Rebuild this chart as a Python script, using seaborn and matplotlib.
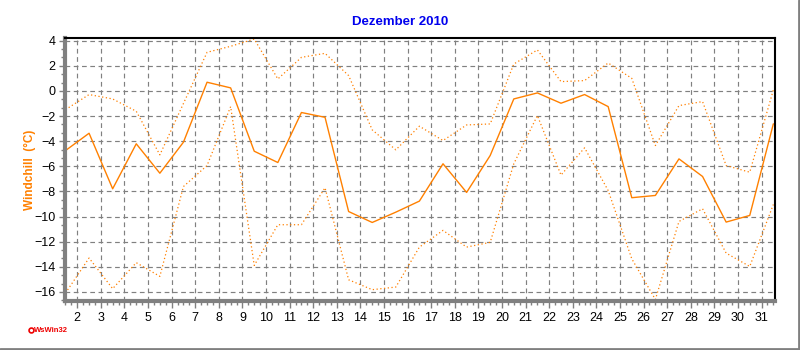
import matplotlib
matplotlib.use("Agg")
import matplotlib.pyplot as plt
import seaborn as sns
import pandas as pd
from matplotlib.ticker import MultipleLocator, AutoMinorLocator
from matplotlib.lines import Line2D

# ---- data (daily values for December 2010, plotted at mid-day) ----
days = list(range(1, 32))
windchill_mean = [-4.75, -3.37, -7.79, -4.21, -6.55, -4.08, 0.69, 0.24, -4.8, -5.7,
                  -1.72, -2.1, -9.6, -10.47, -9.65, -8.77, -5.8, -8.08, -5.14, -0.64,
                  -0.16, -0.98, -0.29, -1.25, -8.5, -8.32, -5.41, -6.81, -10.44, -9.91,
                  -2.62]
windchill_max = [-1.49, -0.29, -0.64, -1.62, -5.09, -1.0, 3.07, 3.55, 4.13, 0.95,
                 2.67, 2.99, 1.22, -3.1, -4.69, -2.81, -3.95, -2.71, -2.63, 2.14,
                 3.26, 0.74, 0.82, 2.22, 1.0, -4.35, -1.17, -0.85, -5.94, -6.47,
                 0.08]
windchill_min = [-16.09, -13.3, -15.74, -13.67, -14.76, -7.61, -5.94, -1.25, -13.89, -10.65,
                 -10.65, -7.71, -15.03, -15.82, -15.61, -12.43, -11.1, -12.43, -12.05, -5.8,
                 -1.96, -6.7, -4.53, -7.93, -13.36, -16.6, -10.39, -9.38, -12.91, -13.97,
                 -9.04]
xtick_labels = [str(d) for d in range(2, 32)]
title = "Dezember 2010"
ylabel = "Windchill  (°C)"

df = pd.DataFrame({
    "pos": [d + 0.5 for d in days],
    "mean": windchill_mean,
    "max": windchill_max,
    "min": windchill_min,
})

sns.set_theme(style="white")
plt.rcParams["font.family"] = ["Liberation Sans", "DejaVu Sans"]

ORANGE = "#FF8000"
GRAY = "#808080"

fig = plt.figure(figsize=(8, 3.5), dpi=100)
ax = fig.add_axes([65 / 800, 49 / 350, 710 / 800, 263 / 350])

sns.lineplot(data=df, x="pos", y="max", ax=ax, color=ORANGE, lw=0.9,
             linestyle=(0, (1, 2)))
sns.lineplot(data=df, x="pos", y="min", ax=ax, color=ORANGE, lw=0.9,
             linestyle=(0, (1, 2)))
sns.lineplot(data=df, x="pos", y="mean", ax=ax, color=ORANGE, lw=1.0)

ax.set_xlim(1.48, 31.57)
ax.set_ylim(-16.72, 4.21)

ax.set_xticks([int(t) for t in xtick_labels])
ax.set_xticklabels(xtick_labels)
ax.xaxis.set_minor_locator(AutoMinorLocator(4))
ax.yaxis.set_major_locator(MultipleLocator(2))
ax.yaxis.set_minor_locator(AutoMinorLocator(3))

ax.grid(True, which="major", color=GRAY, linestyle=(0, (4, 3)), linewidth=0.85)
ax.set_axisbelow(True)

ax.tick_params(axis="both", which="major", direction="out", length=4, width=1,
               color=GRAY, labelsize=9, labelcolor="black", pad=3)
ax.tick_params(axis="both", which="minor", direction="out", length=3, width=1,
               color=GRAY)
ax.tick_params(axis="x", which="major", length=5)
ax.tick_params(left=True, bottom=True, which="both")

for side in ("left", "bottom"):
    ax.spines[side].set_color(GRAY)
    ax.spines[side].set_linewidth(3)
for side in ("top", "right"):
    ax.spines[side].set_color("black")
    ax.spines[side].set_linewidth(1.5)
    ax.spines[side].set_visible(True)

ax.set_xlabel("")
ax.set_ylabel("")

fig.text(400 / 800, 1 - 22 / 350, title, ha="center", va="center",
         color="#0000EE", fontsize=9.5, fontweight="bold",
         family=["Liberation Sans Narrow", "Liberation Sans", "DejaVu Sans"])
fig.text(30 / 800, 1 - 170 / 350, ylabel, ha="center", va="center", rotation=90,
         color=ORANGE, fontsize=8.5, fontweight="bold",
         family=["Liberation Sans Narrow", "Liberation Sans", "DejaVu Sans"])

# WsWin32 logo
fig.add_artist(Line2D([30.5 / 800], [1 - 330 / 350], marker="o", markersize=3.5,
                      markerfacecolor="white", markeredgecolor="#EE0000",
                      markeredgewidth=1.2, transform=fig.transFigure))
fig.text(34 / 800, 1 - 330 / 350, "WsWin32", ha="left", va="center",
         color="#EE0000", fontsize=5.5, fontweight="bold",
         family=["Liberation Sans Narrow", "Liberation Sans", "DejaVu Sans"])

# figure frame (right and bottom gray edges)
fig.add_artist(Line2D([0, 1], [1 / 350, 1 / 350], color=GRAY, lw=2,
                      transform=fig.transFigure))
fig.add_artist(Line2D([798.5 / 800, 798.5 / 800], [0, 1], color=GRAY, lw=2,
                      transform=fig.transFigure))

fig.savefig("out.png", dpi=100, facecolor="white")
